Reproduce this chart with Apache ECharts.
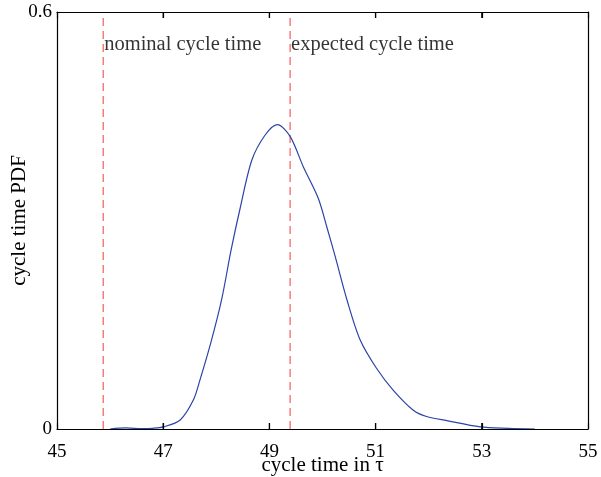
<!DOCTYPE html>
<html><head><meta charset="utf-8">
<script src="https://cdn.jsdelivr.net/npm/echarts@6/dist/echarts.min.js"></script>
<style>html,body{margin:0;padding:0;background:#fff}#c{width:601px;height:477px}</style>
</head><body><div id="c"></div>
<script>
var xTicks = [45, 47, 49, 51, 53, 55];
var yTicks = [0, 0.6];
var pdfX = [46.0, 46.3, 46.6, 46.8, 47.0, 47.32, 47.57, 47.69, 47.9, 48.10, 48.28, 48.45, 48.67, 48.92, 49.15, 49.39, 49.64, 49.92, 50.08, 50.24, 50.46, 50.71, 51.02, 51.33, 51.71, 51.96, 52.34, 52.97, 53.5, 54.0];
var pdfY = [0.0, 0.0015, 0.0005, 0.001, 0.003, 0.013, 0.042, 0.07, 0.125, 0.186, 0.258, 0.318, 0.387, 0.423, 0.438, 0.421, 0.377, 0.332, 0.291, 0.248, 0.186, 0.128, 0.087, 0.056, 0.027, 0.018, 0.012, 0.003, 0.001, 0.0];
var refNames = ['nominal cycle time', 'expected cycle time'];
var refValues = [45.87, 49.39];
var labelY = 0.5525;

var font = 'Liberation Serif';
var chart = echarts.init(document.getElementById('c'), null, {renderer: 'canvas'});
var refSeries = refValues.map(function (v, i) {
  return {
    type: 'line', data: [[v, 0], [v, 0.6]], symbol: 'none', silent: true, z: 1,
    lineStyle: {color: '#f45a5a', width: 1.2, type: [8, 5]}
  };
});
var labelSeries = {
  type: 'scatter', symbolSize: 0, silent: true,
  data: refValues.map(function (v, i) { return {value: [v, labelY], name: refNames[i]}; }),
  label: {show: true, position: 'right', distance: 1, formatter: '{b}', color: '#000', fontFamily: font, fontSize: 20.5}
};
var tickSeries = {
  type: 'custom', silent: true, z: 10, clip: false,
  xAxisIndex: 0, yAxisIndex: 0,
  encode: {x: 0, y: 1},
  data: xTicks.slice(1, -1).map(function (x) { return [x, 0]; }),
  renderItem: function (params, api) {
    var b = api.coord([api.value(0), 0]);
    var t = api.coord([api.value(0), 0.6]);
    var st = {stroke: '#000', lineWidth: 1.2, fill: null};
    return {type: 'group', children: [
      {type: 'line', shape: {x1: b[0], y1: b[1], x2: b[0], y2: b[1] - 6}, style: st},
      {type: 'line', shape: {x1: t[0], y1: t[1], x2: t[0], y2: t[1] + 6}, style: st}
    ]};
  }
};
var xStep = xTicks[1] - xTicks[0];
chart.setOption({
  animation: false,
  grid: {left: 57, right: 13, top: 12, bottom: 48, containLabel: false, outerBoundsMode: 'none'},
  xAxis: [{
    type: 'value', min: xTicks[0], max: xTicks[xTicks.length - 1], interval: xStep, position: 'bottom', z: 5,
    name: 'cycle time in τ', nameLocation: 'middle', nameGap: 26, nameMoveOverlap: false,
    nameTextStyle: {fontFamily: font, fontSize: 21, color: '#000'},
    axisLine: {show: true, onZero: false, lineStyle: {color: '#000', width: 1.2}},
    axisTick: {show: true, inside: true, length: 6, lineStyle: {color: '#000', width: 1.2}},
    axisLabel: {show: true, margin: 14, fontFamily: font, fontSize: 19, color: '#000', showMinLabel: true, showMaxLabel: true},
    splitLine: {show: false}
  }, {
    type: 'value', min: xTicks[0], max: xTicks[xTicks.length - 1], interval: xStep, position: 'top', z: 5,
    axisLine: {show: true, onZero: false, lineStyle: {color: '#000', width: 1.2}},
    axisTick: {show: true, inside: true, length: 6, lineStyle: {color: '#000', width: 1.2}},
    axisLabel: {show: false}, splitLine: {show: false}
  }],
  yAxis: [{
    type: 'value', min: 0, max: 0.6, position: 'left',
    name: 'cycle time PDF', nameLocation: 'middle', nameGap: 27, nameMoveOverlap: false,
    nameTextStyle: {fontFamily: font, fontSize: 21, color: '#000'},
    axisLine: {show: true, onZero: false, lineStyle: {color: '#000', width: 1.2}},
    axisTick: {show: false},
    axisLabel: {show: true, customValues: yTicks, margin: 5, fontFamily: font, fontSize: 19, color: '#000',
      formatter: function (v) { return v === 0 ? '0' : String(v); }},
    splitLine: {show: false}
  }, {
    type: 'value', min: 0, max: 0.6, position: 'right',
    axisLine: {show: true, onZero: false, lineStyle: {color: '#000', width: 1.2}},
    axisTick: {show: false}, axisLabel: {show: false}, splitLine: {show: false}
  }],
  series: [{
    type: 'line', smooth: 0.3, symbol: 'none', silent: true, z: 2,
    data: pdfX.map(function (x, i) { return [x, pdfY[i]]; }),
    lineStyle: {color: '#2b44a8', width: 1.2}
  }].concat(refSeries).concat([labelSeries, tickSeries])
});
</script></body></html>
